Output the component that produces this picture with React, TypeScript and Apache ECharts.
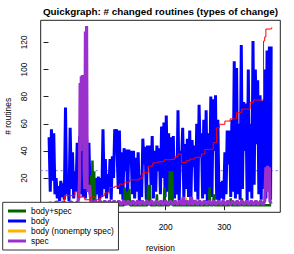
import React, { useEffect, useRef } from "react";
import * as echarts from "echarts";

// Quickgraph data: [revision, value]
const bodyPts: [number, number][] = [
  [1, 50], [3, 10], [5, 56], [7, 18], [9, 53], [11, 8], [13, 20], [15, 5], [17, 14], [19, 3], [21, 18], [23, 6],
  [25, 16], [27, 4], [29, 72], [31, 8], [33, 19], [35, 3], [37, 57], [39, 12], [41, 39], [43, 5], [45, 25], [47, 10],
  [49, 46], [51, 4], [53, 51], [55, 8], [57, 48], [59, 6], [61, 40], [63, 5], [65, 50], [67, 12], [69, 46], [71, 8],
  [73, 18], [75, 5], [77, 12], [79, 3], [81, 20], [83, 8], [85, 21], [87, 4], [89, 20], [91, 6], [93, 56], [95, 12],
  [97, 34], [99, 5], [101, 23], [103, 10], [105, 34], [107, 4], [109, 36], [111, 20], [113, 56], [114, 52], [116, 56], [119, 12],
  [121, 55], [123, 8], [125, 39], [127, 4], [129, 42], [131, 25], [133, 41], [135, 6], [137, 41], [139, 30], [141, 40], [143, 8],
  [145, 40], [147, 5], [149, 35], [151, 10], [153, 39], [155, 3], [157, 22], [159, 6], [161, 49], [163, 30], [165, 43], [167, 4],
  [169, 44], [171, 28], [173, 44], [175, 15], [177, 51], [179, 5], [181, 40], [183, 10], [185, 44], [187, 25], [189, 42], [191, 8],
  [193, 58], [195, 20], [197, 61], [199, 6], [201, 66], [203, 10], [205, 53], [207, 4], [209, 50], [211, 12], [213, 51], [215, 5],
  [217, 35], [219, 8], [221, 70], [223, 3], [225, 40], [227, 30], [229, 57], [231, 4], [233, 45], [235, 12], [237, 49], [239, 6],
  [241, 55], [243, 3], [245, 48], [247, 28], [249, 44], [251, 10], [253, 60], [255, 4], [257, 74], [259, 35], [261, 53], [263, 5],
  [265, 63], [267, 8], [269, 70], [271, 3], [273, 53], [275, 10], [277, 80], [279, 6], [281, 78], [283, 40], [285, 81], [287, 4],
  [289, 63], [291, 3], [293, 17], [295, 5], [297, 18], [299, 4], [301, 39], [303, 8], [305, 55], [307, 30], [309, 55], [311, 6],
  [313, 63], [315, 10], [317, 106], [319, 5], [321, 101], [323, 8], [325, 60], [327, 4], [329, 118], [331, 12], [333, 76], [335, 40],
  [337, 75], [339, 3], [341, 100], [343, 10], [345, 60], [347, 5], [349, 121], [351, 15], [353, 100], [355, 45], [357, 92], [359, 8],
  [361, 81], [363, 4], [365, 77], [367, 12], [369, 100], [371, 5], [373, 114], [375, 20], [377, 117], [379, 4], [380, 117],
];

const bodySpecPts: [number, number][] = [
  [1, 0], [72, 0], [73, 22], [74, 0], [75, 33], [76, 8], [78, 25], [79, 0], [129, 0], [130, 13], [131, 0], [135, 10], [136, 0],
  [138, 12], [139, 0], [169, 0], [170, 15], [171, 0], [173, 15], [174, 0], [184, 0], [185, 8], [186, 0], [197, 0], [198, 13],
  [199, 0], [206, 0], [207, 25], [208, 0], [211, 25], [212, 0], [274, 0], [275, 13], [276, 0], [281, 0], [282, 8], [283, 0],
  [310, 0], [311, 5], [312, 0], [329, 0], [330, 5], [331, 0], [380, 0],
];

// only the visible bumps; elsewhere the series lies hidden under "spec"
const nonemptySpecPts: [number, number | string][] = [
  [228, 1], [230, 5], [234, 5], [236, 1], [240, "-"], [250, 1], [252, 4], [254, 1],
];

const specPts: [number, number][] = [
  [1, 2], [8, 0.5], [14, 2.5], [20, 0.5], [26, 2.5], [32, 0.5], [38, 2.5], [44, 0.5], [50, 2.5], [52, 6], [53, 20], [54, 90],
  [55, 40], [56, 95], [57, 50], [58, 96], [59, 60], [60, 92], [61, 25], [62, 12], [63, 128], [64, 60], [65, 132], [66, 14],
  [68, 10], [70, 15], [72, 4], [76, 0.3], [80, 3.2], [84, 0.3], [88, 3.2], [92, 0.3], [96, 3.2], [100, 0.3], [104, 3.2],
  [108, 0.3], [112, 3.2], [116, 0.3], [120, 3.2], [124, 0.3], [128, 3.2], [132, 0.3], [136, 3.2], [140, 0.3], [144, 3.2],
  [148, 0.3], [152, 3.2], [156, 0.3], [160, 3.2], [164, 0.3], [168, 3.2], [172, 0.3], [176, 3.2], [180, 0.3], [184, 3.2],
  [188, 0.3], [192, 3.2], [196, 0.3], [200, 3.2], [204, 0.3], [208, 3.2], [212, 0.3], [216, 3.2], [220, 0.3], [224, 3.2],
  [228, 0.3], [230, 6], [232, 0.3], [236, 3.2], [240, 0.3], [244, 6], [246, 0.3], [250, 3.2], [254, 0.3], [258, 3.2],
  [262, 0.3], [266, 3.2], [270, 0.3], [274, 3.2], [278, 0.3], [282, 3.2], [286, 0.3], [290, 3.2], [294, 0.3], [298, 3.2],
  [302, 0.3], [306, 3.2], [310, 0.3], [314, 3.2], [318, 0.3], [322, 3.2], [326, 0.3], [330, 3.2], [334, 0.3], [338, 3.2],
  [342, 0.3], [346, 3.2], [350, 0.3], [354, 3.2], [358, 0.3], [362, 3.2], [366, 0.3], [369, 3], [371, 28], [373, 10],
  [374, 29], [376, 15], [377, 28], [378, 3], [380, 1],
];

const cumulativePts: [number, number][] = [
  [1, 1], [27, 7], [35, 7], [45, 10], [50, 6], [62, 4], [72, 6], [80, 4], [86, 5], [90, 7], [96, 9], [104, 13], [113, 14],
  [121, 15.5], [130, 17], [138, 18.7], [147, 18.7], [155, 20], [161, 24], [170, 28.8], [178, 31.2], [187, 32], [195, 32.4],
  [198, 33.5], [207, 34], [216, 35.8], [221, 37.7], [227, 31.4], [235, 32.7], [241, 34], [250, 35.3], [255, 35.3], [261, 37.7],
  [267, 41], [275, 41.5], [281, 46], [287, 57], [292, 59.6], [301, 62], [304, 62], [310, 63.6], [318, 63.6], [321, 68.4],
  [330, 70.8], [341, 70.8], [344, 75.8], [350, 77.5], [365, 78], [367, 121], [369, 124], [371, 129.8], [378, 130], [381, 131],
];

const meanBody = 25.4;
const xTickValues = [200, 300];
const yTickValues = [20, 40, 60, 80, 100, 120];
const legendNames = ["body+spec", "body", "body (nonempty spec)", "spec"];

const FONT = "'Liberation Sans', Arial, Helvetica, sans-serif";

export default function App() {
  const ref = useRef<HTMLDivElement>(null);
  useEffect(() => {
    if (!ref.current) return;
    const chart = echarts.init(ref.current, undefined, { renderer: "svg" });
    const xMin = -13.3;
    const xMax = 395.6;
    chart.setOption({
      animation: false,
      backgroundColor: "#ffffff",
      textStyle: { fontFamily: FONT },
      title: {
        text: "Quickgraph: # changed routines (types of change)",
        left: 160.5,
        top: 5,
        textAlign: "center",
        padding: 0,
        textStyle: { fontSize: 9.85, fontWeight: "bold", color: "#000", fontFamily: FONT, lineHeight: 12 },
      },
      grid: {
        left: 40.7,
        right: 13.7,
        top: 20.3,
        bottom: 41.7,
        outerBoundsMode: "none",
        containLabel: false,
        show: true,
        borderColor: "#222",
        borderWidth: 1,
        backgroundColor: "transparent",
      },
      legend: {
        data: legendNames,
        orient: "vertical",
        left: 2.7,
        top: 202.3,
        padding: [3.7, 4.6, 4, 5.3],
        itemGap: 0,
        itemWidth: 18,
        itemHeight: 3,
        itemTextGap: 6.7,
        icon: "rect",
        backgroundColor: "#ffffff",
        borderColor: "#333",
        borderWidth: 1,
        borderRadius: 0,
        z: 10,
        textStyle: { fontSize: 8.4, lineHeight: 10, color: "#000", fontFamily: FONT },
      },
      xAxis: {
        type: "value",
        min: xMin,
        max: xMax,
        name: "revision",
        nameLocation: "middle",
        nameGap: 32,
        nameTextStyle: { fontSize: 8.4, color: "#000", fontFamily: FONT },
        axisLine: { show: false },
        splitLine: { show: false },
        axisTick: { show: true, length: 5, lineStyle: { color: "#222" }, customValues: xTickValues },
        axisLabel: { fontSize: 8.4, color: "#000", margin: 11, customValues: xTickValues, fontFamily: FONT },
      },
      yAxis: {
        type: "value",
        min: -5.24,
        max: 136.24,
        name: "# routines",
        nameLocation: "middle",
        nameRotate: 90,
        nameGap: 29,
        nameTextStyle: { fontSize: 8.4, color: "#000", fontFamily: FONT },
        axisLine: { show: false },
        splitLine: { show: false },
        axisTick: { show: true, length: 5, lineStyle: { color: "#222" }, customValues: yTickValues },
        axisLabel: { fontSize: 8.4, color: "#000", margin: 13, rotate: 90, customValues: yTickValues, fontFamily: FONT },
      },
      series: [
        {
          name: "mean",
          type: "line",
          data: [[xMin, meanBody], [xMax, meanBody]],
          symbol: "none",
          lineStyle: { color: "#8c8cff", width: 1.2, type: [2, 3] },
          silent: true,
        },
        {
          name: "body",
          type: "line",
          data: bodyPts,
          symbol: "none",
          color: "#0000ff",
          lineStyle: { color: "#0000ff", width: 3 },
        },
        {
          name: "body+spec",
          type: "line",
          data: bodySpecPts,
          symbol: "none",
          color: "#006400",
          lineStyle: { color: "#006400", width: 2.5 },
        },
        {
          name: "body (nonempty spec)",
          type: "line",
          data: nonemptySpecPts,
          symbol: "none",
          connectNulls: false,
          color: "#ffb000",
          lineStyle: { color: "#ffb000", width: 3 },
        },
        {
          name: "spec",
          type: "line",
          data: specPts,
          symbol: "none",
          color: "#9932cc",
          lineStyle: { color: "#9932cc", width: 3.2 },
        },
        {
          name: "cumulative",
          type: "line",
          data: cumulativePts,
          step: "end",
          symbol: "none",
          lineStyle: { color: "#ff0000", width: 1 },
        },
      ],
    });
    return () => chart.dispose();
  }, []);
  return <div ref={ref} style={{ position: "absolute", left: 0, top: 0, width: 294, height: 254 }} />;
}
